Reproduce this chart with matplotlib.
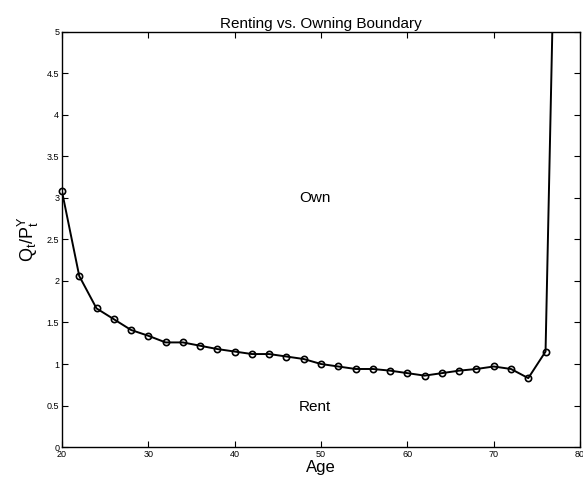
import matplotlib
matplotlib.use("Agg")
import matplotlib.pyplot as plt

plt.rcParams['font.family'] = ['Liberation Sans', 'DejaVu Sans']

ages = [20, 22, 24, 26, 28, 30, 32, 34, 36, 38, 40, 42, 44, 46, 48, 50, 52, 54, 56, 58,
        60, 62, 64, 66, 68, 70, 72, 74, 76, 78]
ratio = [3.08, 2.06, 1.67, 1.54, 1.41, 1.34, 1.26, 1.26, 1.22, 1.18, 1.15, 1.12, 1.12, 1.09,
         1.06, 1.00, 0.97, 0.94, 0.94, 0.92, 0.89, 0.86, 0.89, 0.92, 0.94, 0.97, 0.94, 0.83,
         1.15, 11.0]
xticks = [20, 30, 40, 50, 60, 70, 80]
yticks = [0, 0.5, 1, 1.5, 2, 2.5, 3, 3.5, 4, 4.5, 5]
ytick_labels = ['0', '0.5', '1', '1.5', '2', '2.5', '3', '3.5', '4', '4.5', '5']

fig = plt.figure(figsize=(5.83, 4.84), dpi=100)
ax = fig.add_axes([0.1063, 0.0764, 0.8887, 0.8576])
ax.set_xlim(20, 80)
ax.set_ylim(0, 5)
ax.plot(ages, ratio, color='black', lw=1.4, clip_on=True)
vis = [(a, r) for a, r in zip(ages, ratio) if r <= 5]
ax.plot([a for a, _ in vis], [r for _, r in vis], linestyle='none', marker='o', markersize=4.5,
        markerfacecolor='none', markeredgecolor='black', markeredgewidth=1.2, clip_on=False)
ax.set_xticks(xticks)
ax.set_xticklabels([str(t) for t in xticks])
ax.set_yticks(yticks)
ax.set_yticklabels(ytick_labels)
ax.tick_params(direction='in', top=True, right=True, labelsize=6.5, length=4, width=0.8, pad=2)
for s in ax.spines.values():
    s.set_linewidth(1.0)
ax.set_title('Renting vs. Owning Boundary', fontsize=11, pad=3)
ax.set_xlabel('Age', fontsize=12, labelpad=1)
ax.set_ylabel(r'$\mathregular{Q_t/P_t^Y}$', fontsize=13, labelpad=4)
ax.text(49.3, 3.0, 'Own', fontsize=11, ha='center', va='center')
ax.text(49.3, 0.48, 'Rent', fontsize=11, ha='center', va='center')
fig.savefig('out.png', dpi=100)
